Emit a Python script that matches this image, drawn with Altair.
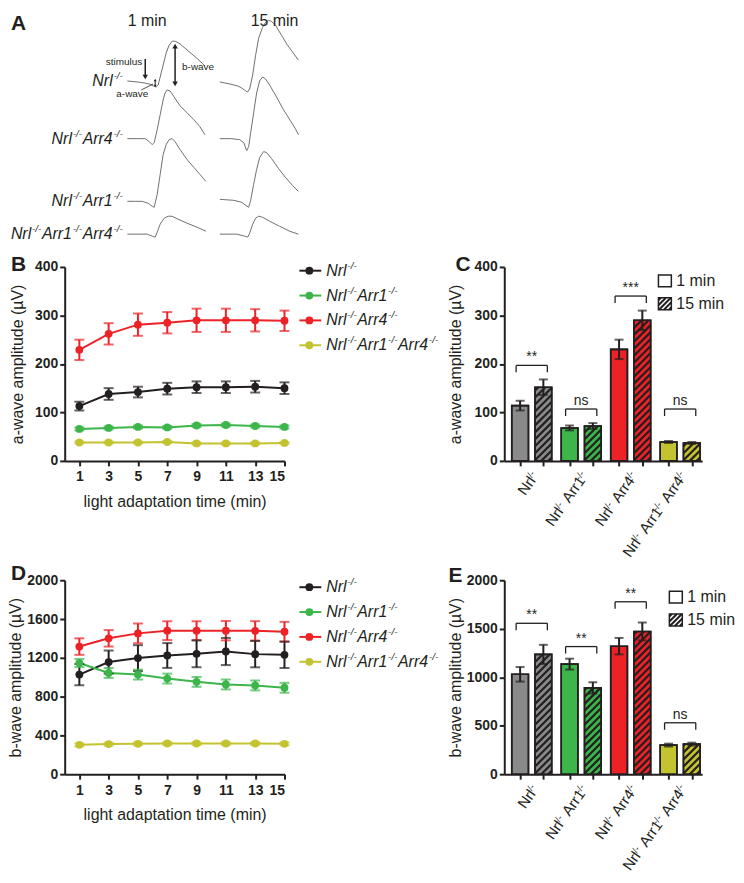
import math
import altair as alt
import pandas as pd

INK = "#231f20"
FONT = "Liberation Sans"

genotypes = ["Nrl-/-", "Nrl-/-Arr1-/-", "Nrl-/-Arr4-/-", "Nrl-/-Arr1-/-Arr4-/-"]
a_label_order = [0, 2, 1, 3]  # panel A rows: Nrl, Arr4, Arr1, Arr1Arr4
line_colors = ["#231f20", "#3cb54a", "#ec2227", "#c3c22f"]
bar_colors = ["#8a8a8a", "#3cb54a", "#ec2227", "#c3c22f"]
times = [1, 3, 5, 7, 9, 11, 13, 15]

# panel B: a-wave vs time
a_mean = [[113, 138, 142, 149, 152, 152, 153, 150],
          [66, 68, 70, 69, 73, 74, 72, 70],
          [229, 262, 281, 285, 290, 290, 290, 289],
          [38, 38, 38, 39, 36, 36, 36, 37]]
a_err = [[9, 12, 11, 12, 12, 12, 12, 12],
         [3, 3, 3, 3, 3, 3, 3, 3],
         [21, 22, 23, 22, 24, 24, 23, 21],
         [2, 2, 2, 2, 2, 2, 2, 2]]
# panel D: b-wave vs time
b_mean = [[1027, 1156, 1197, 1224, 1241, 1265, 1238, 1231],
          [1146, 1044, 1027, 986, 952, 925, 915, 891],
          [1316, 1401, 1452, 1480, 1480, 1480, 1478, 1469],
          [303, 310, 313, 316, 316, 316, 316, 313]]
b_err = [[110, 119, 133, 128, 138, 140, 136, 136],
         [42, 51, 51, 51, 51, 51, 51, 51],
         [85, 85, 102, 97, 97, 100, 100, 102],
         [15, 15, 15, 15, 15, 15, 15, 15]]

# panels C / E: 1 min vs 15 min
a_1min = [114, 68, 230, 39]
a_1min_err = [10, 5, 20, 2]
a_15min = [152, 72, 290, 37]
a_15min_err = [16, 6, 20, 2]
b_1min = [1030, 1135, 1320, 300]
b_1min_err = [75, 56, 85, 15]
b_15min = [1235, 890, 1472, 310]
b_15min_err = [99, 58, 92, 15]
a_sig = ["**", "ns", "***", "ns"]
a_sig_level = [197, 107, 340, 107]
b_sig = ["**", "**", "**", "ns"]
b_sig_level = [1556, 1316, 1778, 530]

# panel A: ERG traces (arbitrary units), rows Nrl, Arr4, Arr1, Arr1Arr4
erg_1min_t = [
    [125, 135, 142, 147, 151, 154, 156, 158, 161, 164, 167, 170, 173, 177, 183, 190, 197, 203],
    [125, 135, 143, 147, 150, 152, 155, 158, 161, 163, 165, 168, 172, 178, 185, 192, 198, 203],
    [125, 133, 140, 146, 150, 152, 155, 158, 161, 164, 167, 170, 173, 178, 185, 192, 198, 204],
    [125, 135, 145, 150, 153, 155, 158, 162, 166, 170, 176, 185, 195, 204],
]
erg_1min_v = [
    [76, 77, 78, 79, 81, 82, 80, 72, 60, 48, 40, 36, 36, 38, 43, 49, 55, 61],
    [134, 134, 134, 137, 140, 138, 125, 110, 95, 88, 85, 86, 92, 101, 108, 115, 122, 130],
    [197, 197, 197, 199, 202, 203, 190, 170, 150, 140, 135, 134, 137, 145, 155, 163, 170, 177],
    [230, 230, 230, 232, 233, 228, 220, 214, 212, 212, 215, 219, 223, 227],
]
erg_15min_t = [
    [218, 228, 236, 240, 244, 246, 248, 251, 254, 257, 261, 264, 267, 270, 274, 280, 286, 292, 297],
    [218, 230, 238, 242, 245, 247, 249, 252, 255, 258, 261, 264, 268, 275, 282, 289, 294, 297],
    [218, 232, 240, 244, 247, 249, 252, 255, 258, 262, 265, 270, 277, 284, 291, 297],
    [218, 235, 243, 246, 248, 251, 254, 257, 261, 268, 278, 288, 297],
]
erg_15min_v = [
    [77, 79, 81, 83, 86, 87, 84, 70, 50, 33, 22, 17, 15, 16, 20, 30, 40, 48, 55],
    [134, 134, 135, 138, 146, 142, 128, 108, 88, 76, 72, 74, 80, 92, 105, 116, 124, 130],
    [195, 196, 198, 201, 203, 196, 180, 165, 153, 147, 148, 154, 164, 173, 181, 187],
    [230, 230, 232, 233, 229, 220, 214, 212, 213, 217, 222, 227, 230],
]

WL, HP, WB, WLEG, HSP, VSP, HA = 221, 195, 199, 191, 15, 120, 135
one = pd.DataFrame({"k": [0]})

# Arial / Liberation Sans advance widths (em) for the glyphs used in genotype labels
GW = {"N": .722, "r": .333, "l": .222, "A": .667, "1": .556, "4": .556, "-": .333, "/": .278}


def rich(label, size, sup_size, gap=0.8):
    """split 'Nrl-/-Arr1-/-' into base / superscript pieces with x offsets (px)"""
    out, off = [], 0.0
    pieces = label.split("-/-")
    for i, p in enumerate(pieces):
        if p:
            out.append((p, 0, off))
            off += sum(GW[c] for c in p) * size + gap
        if i < len(pieces) - 1:
            out.append(("-/-", 1, off))
            off += sum(GW[c] for c in "-/-") * sup_size + 0.5
    return out, off


def txt(s, x, y, size=16, align="left", baseline="middle", weight="normal", style="normal"):
    return alt.Chart(one).mark_text(text=s, fontSize=size, align=align, baseline=baseline,
                                    fontWeight=weight, fontStyle=style, color=INK, font=FONT).encode(
        x=alt.value(x), y=alt.value(y))


def seg(x1, y1, x2, y2, w=1.5):
    return alt.Chart(one).mark_rule(color=INK, strokeWidth=w).encode(
        x=alt.value(x1), y=alt.value(y1), x2=alt.value(x2), y2=alt.value(y2))


def head(x, y, shape, size=28):
    return alt.Chart(one).mark_point(shape=shape, filled=True, size=size, color=INK, opacity=1).encode(
        x=alt.value(x), y=alt.value(y))


def rich_layers(df, x, y, size, sup_size, raise_dx, raise_dy, style="italic", angle=None):
    kw = dict(align="left", baseline="middle", color=INK, font=FONT, fontStyle=style)
    if angle is not None:
        kw["angle"] = angle
    base = alt.Chart(df).transform_filter("datum.sup == 0").mark_text(fontSize=size, **kw).encode(
        x=x, y=y, text="t:N")
    sup = alt.Chart(df).transform_filter("datum.sup == 1").mark_text(
        fontSize=sup_size, dx=raise_dx, dy=raise_dy, **kw).encode(x=x, y=y, text="t:N")
    return [base, sup]


# ---------------- panel A ----------------
rows = []
for r in range(4):
    for i, (t, v) in enumerate(zip(erg_1min_t[r], erg_1min_v[r])):
        rows.append(dict(trace=f"1-{r}", i=i, x=t, y=v))
    for i, (t, v) in enumerate(zip(erg_15min_t[r], erg_15min_v[r])):
        rows.append(dict(trace=f"15-{r}", i=i, x=t, y=v))
df_erg = pd.DataFrame(rows)
xA = alt.X("x:Q", scale=alt.Scale(domain=[62, 62 + WL], nice=False, zero=False), axis=None)
yA = alt.Y("y:Q", scale=alt.Scale(domain=[8, 8 + HA], nice=False, zero=False, reverse=True), axis=None)
traces = alt.Chart(df_erg).mark_line(strokeWidth=1, color="#707070").encode(
    x=xA, y=yA, detail="trace:N", order="i:Q")
arows = []
for r in range(4):
    pieces, total = rich(genotypes[a_label_order[r]], 16, 10)
    for (t, s, off) in pieces:
        arows.append(dict(t=t, sup=s, x=121 - total + off, y=erg_1min_v[r][0]))
alabels = rich_layers(pd.DataFrame(arows), "x:Q", "y:Q", 16, 10, 0, -5)
panelA = alt.layer(
    traces, *alabels,
    txt("A", -54, 0, size=21, weight="bold", baseline="top"),
    txt("1 min", 83, 0, align="center", baseline="top"),
    txt("15 min", 211, 0, align="center", baseline="top"),
    txt("stimulus", 78, 49, size=10, align="right"),
    seg(81, 46, 81, 62, 1.5), head(81, 64, "triangle-down", 30),
    txt("b-wave", 118, 54, size=10),
    seg(111, 33, 111, 71, 1.5), head(111, 33, "triangle-up", 30), head(111, 71, "triangle-down", 30),
    txt("a-wave", 68, 81, size=10, align="center"),
    seg(77, 77, 89, 71, 0.8), seg(91, 67, 91, 73, 1), head(91, 67, "triangle-up", 8), head(91, 73, "triangle-down", 8),
).properties(width=WL, height=HA)


def blank():
    return alt.Chart(one).mark_point(opacity=0).encode(x=alt.value(0), y=alt.value(0)).properties(width=1, height=1)


# ---------------- line panels ----------------
def line_panel(means, errs, ymax, ystep, ytitle, extent, tpad, letter, lety):
    rows = []
    for g, c, m, e in zip(genotypes, line_colors, means, errs):
        for t, mv, ev in zip(times, m, e):
            rows.append(dict(geno=g, col=c, time=t, mean=mv, lo=mv - ev, hi=mv + ev))
    df = pd.DataFrame(rows)
    col = alt.Color("col:N", scale=None)
    yvals = list(range(0, ymax + 1, ystep))
    xs = alt.X("time:Q", scale=alt.Scale(domain=[0, 15], nice=False, zero=False),
               axis=alt.Axis(values=times, tickCount=20, title="light adaptation time (min)", labelPadding=4,
                             titlePadding=10, labelOverlap=False))
    ys = alt.Y("mean:Q", scale=alt.Scale(domain=[0, ymax], nice=False),
               axis=alt.Axis(values=yvals, tickCount=20, title=ytitle, format="d",
                             minExtent=extent, maxExtent=extent, titlePadding=tpad, labelOverlap=False))
    base = alt.Chart(df)
    lines = base.mark_line(strokeWidth=2).encode(x=xs, y=ys, color=col, detail="geno:N")
    err = base.mark_rule(strokeWidth=2).encode(x="time:Q", y="lo:Q", y2="hi:Q", color=col)
    caplo = base.mark_tick(orient="horizontal", size=10, thickness=2).encode(x="time:Q", y="lo:Q", color=col)
    caphi = base.mark_tick(orient="horizontal", size=10, thickness=2).encode(x="time:Q", y="hi:Q", color=col)
    pts = base.mark_circle(size=62, opacity=1).encode(x="time:Q", y="mean:Q", color=col)
    return alt.layer(lines, err, caplo, caphi, pts,
                     txt(letter, -54, lety, size=21, weight="bold", baseline="top")).properties(width=WL, height=HP)


def legend_panel(offset):
    df = pd.DataFrame({"geno": genotypes, "col": line_colors, "pos": [i + offset for i in range(4)]})
    col = alt.Color("col:N", scale=None)
    yscale = alt.Scale(domain=[0, HP / 25], reverse=True, nice=False, zero=False)
    y = alt.Y("pos:Q", scale=yscale, axis=None)
    base = alt.Chart(df)
    r = base.mark_rule(strokeWidth=2).encode(x=alt.value(0), x2=alt.value(22), y=y, color=col)
    c = base.mark_circle(size=62, opacity=1).encode(x=alt.value(10), y=y, color=col)
    trows = []
    for i, g in enumerate(genotypes):
        pieces, total = rich(g, 16, 10)
        for (t, s, off) in pieces:
            trows.append(dict(t=t, sup=s, px=27 + off, pos=i + offset))
    tl = rich_layers(pd.DataFrame(trows), alt.X("px:Q", scale=None, axis=None),
                     alt.Y("pos:Q", scale=yscale, axis=None), 16, 10, 0, -5)
    return alt.layer(r, c, *tl).properties(width=WLEG, height=HP)


# ---------------- bar panels ----------------
def hatch_segments(xl, xr, top, pxx, pxy, step=7.0):
    w = (xr - xl) * pxx
    h = top * pxy
    out = []
    c = -w + step / 2
    while c < h:
        xs = max(0.0, -c)
        xe = min(w, h - c)
        if xe > xs:
            out.append((xl + xs / pxx, (xs + c) / pxy, xl + xe / pxx, (xe + c) / pxy))
        c += step
    return out


ANG = 305
UX, UY = math.cos(math.radians(ANG)), math.sin(math.radians(ANG))
UPX, UPY = math.cos(math.radians(ANG - 90)), math.sin(math.radians(ANG - 90))


def bar_panel(v1, e1, v15, e15, ymax, ystep, ytitle, extent, tpad, sig, sig_level, letter, letx, lety, lx, ly):
    pxx, pxy = WB / 4.0, HP / ymax
    half = 8.4 / pxx
    rows, hrows, brows, trows, grows, centers = [], [], [], [], [], []
    for g in range(4):
        cs = []
        for k, (vals, errs) in enumerate([(v1, e1), (v15, e15)]):
            c = g + (0.32 if k == 0 else 0.79)
            cs.append(c)
            centers.append(c)
            rows.append(dict(geno=genotypes[g], col=bar_colors[g], xl=c - half, xr=c + half, val=vals[g],
                             lo=vals[g] - errs[g], hi=vals[g] + errs[g], pos=c, zero=0))
            if k == 1:
                for (x1, y1, x2, y2) in hatch_segments(c - half, c + half, vals[g], pxx, pxy):
                    hrows.append(dict(x1=x1, y1=y1, x2=x2, y2=y2))
        xa, xb = cs[0] - 4 / pxx, cs[1] + 4 / pxx
        L, d = sig_level[g], 7 / pxy
        brows += [dict(x1=xa, y1=L, x2=xb, y2=L), dict(x1=xa, y1=L, x2=xa, y2=L - d),
                  dict(x1=xb, y1=L, x2=xb, y2=L - d)]
        trows.append(dict(x=(xa + xb) / 2, y=L, s=sig[g]))
        # rotated category label, right end anchored under the group centre
        ax = (cs[0] + cs[1]) / 2 * pxx + 6
        ay = HP + 9
        pieces, total = rich(genotypes[g], 15, 9.5, gap=0.3)
        for (t, s, off) in pieces:
            dpx = off - total
            px, py = ax + dpx * UX, ay + dpx * UY
            grows.append(dict(t=t, sup=s, x=px / pxx, y=(HP - py) / pxy))
    df = pd.DataFrame(rows)
    col = alt.Color("col:N", scale=None)
    xs = alt.X("xl:Q", scale=alt.Scale(domain=[0, 4], nice=False, zero=False),
               axis=alt.Axis(values=centers, tickCount=20, labels=False, title=None))
    ys = alt.Y("val:Q", scale=alt.Scale(domain=[0, ymax], nice=False),
               axis=alt.Axis(values=list(range(0, ymax + 1, ystep)), tickCount=20, title=ytitle, format="d",
                             minExtent=extent, maxExtent=extent, titlePadding=tpad, labelOverlap=False))
    base = alt.Chart(df)
    bars = base.mark_rect(stroke=INK, strokeWidth=1.6).encode(x=xs, x2="xr:Q", y=ys, y2="zero:Q", color=col)
    hatch = alt.Chart(pd.DataFrame(hrows)).mark_rule(color=INK, strokeWidth=2.2).encode(
        x="x1:Q", y="y1:Q", x2="x2:Q", y2="y2:Q")
    outline = base.mark_rect(stroke=INK, strokeWidth=1.6, fillOpacity=0).encode(x="xl:Q", x2="xr:Q", y="val:Q",
                                                                                 y2="zero:Q")
    err = base.mark_rule(color=INK, strokeWidth=2).encode(x="pos:Q", y="lo:Q", y2="hi:Q")
    caplo = base.mark_tick(orient="horizontal", size=9, thickness=2, color=INK).encode(x="pos:Q", y="lo:Q")
    caphi = base.mark_tick(orient="horizontal", size=9, thickness=2, color=INK).encode(x="pos:Q", y="hi:Q")
    br = alt.Chart(pd.DataFrame(brows)).mark_rule(color=INK, strokeWidth=1.3).encode(
        x="x1:Q", y="y1:Q", x2="x2:Q", y2="y2:Q")
    st = alt.Chart(pd.DataFrame(trows)).mark_text(fontSize=14, baseline="alphabetic", dy=-4, color=INK,
                                                  font=FONT).encode(x="x:Q", y="y:Q", text="s:N")
    gl = rich_layers(pd.DataFrame(grows), "x:Q", "y:Q", 15, 9.5, 4.8 * UPX, 4.8 * UPY, style="normal", angle=ANG)
    leg = [alt.Chart(one).mark_rect(fill="white", stroke=INK, strokeWidth=1.5).encode(
        x=alt.value(lx), x2=alt.value(lx + 13), y=alt.value(ly), y2=alt.value(ly + 12)),
        txt("1 min", lx + 18, ly + 6),
        alt.Chart(one).mark_rect(fill="white", stroke=INK, strokeWidth=1.5).encode(
            x=alt.value(lx), x2=alt.value(lx + 13), y=alt.value(ly + 23), y2=alt.value(ly + 35)),
        txt("15 min", lx + 18, ly + 29)]
    for (x1, y1, x2, y2) in hatch_segments(0, 13, 12, 1, 1, step=5):
        leg.append(seg(lx + x1, ly + 35 - y1, lx + x2, ly + 35 - y2, 2))
    return alt.layer(bars, hatch, outline, err, caplo, caphi, br, st, *gl, *leg,
                     txt(letter, letx, lety, size=21, weight="bold", baseline="top")).properties(width=WB, height=HP)


panelB = line_panel(a_mean, a_err, 400, 100, "a-wave amplitude (\u00b5V)", 31, 8, "B", -13)
panelD = line_panel(b_mean, b_err, 2000, 400, "b-wave amplitude (\u00b5V)", 40, 1, "D", -17)
legB = legend_panel(0.15)
legD = legend_panel(0.28)
panelC = bar_panel(a_1min, a_1min_err, a_15min, a_15min_err, 400, 100, "a-wave amplitude (\u00b5V)", 31, 10,
                   a_sig, a_sig_level, "C", -49, -13, 155, 8)
panelE = bar_panel(b_1min, b_1min_err, b_15min, b_15min_err, 2000, 500, "b-wave amplitude (\u00b5V)", 39, 2,
                   b_sig, b_sig_level, "E", -56, -15, 166, 11)

chart = alt.concat(panelA, blank(), blank(), panelB, legB, panelC, panelD, legD, panelE,
                   columns=3, bounds="flush", spacing={"row": VSP, "column": HSP}).properties(padding=0).configure(
    font=FONT).configure_view(stroke=None).configure_axis(
    domainColor=INK, domainWidth=2, tickColor=INK, tickWidth=2, tickSize=5,
    labelFont=FONT, labelFontSize=14, labelFontWeight="bold", labelColor=INK, labelOverlap=False,
    titleFont=FONT, titleFontSize=16, titleFontWeight="normal", titleColor=INK, grid=False)

chart.save("out.html", embed_options={"renderer": "svg", "actions": False})
